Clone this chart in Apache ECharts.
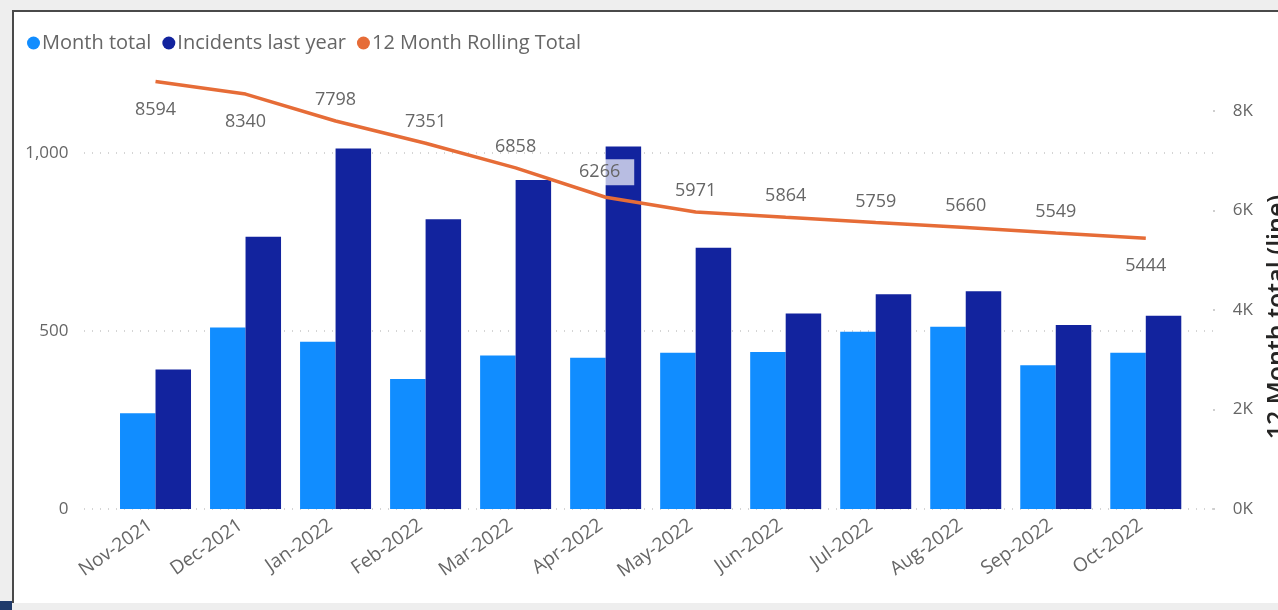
<!DOCTYPE html>
<html>
<head>
<meta charset="utf-8">
<script src="https://cdn.jsdelivr.net/npm/echarts@6/dist/echarts.min.js"></script>
<style>
  html, body { margin: 0; padding: 0; width: 1278px; height: 610px; overflow: hidden; background: #eeeeee; }
  #frame { position: absolute; left: 12px; top: 10px; width: 1266px; height: 593px; background: #ffffff;
           border-left: 2px solid #4a4a4a; border-top: 2px solid #4a4a4a; box-sizing: border-box; }
  #navy { position: absolute; left: 0; top: 601px; width: 12px; height: 9px; background: #1f3a6b; }
  #chart { position: absolute; left: 0; top: 0; width: 1278px; height: 610px; }
</style>
</head>
<body>
<div id="frame"></div>
<div id="navy"></div>
<div id="chart"></div>
<script>
const categories = ['Nov-2021','Dec-2021','Jan-2022','Feb-2022','Mar-2022','Apr-2022','May-2022','Jun-2022','Jul-2022','Aug-2022','Sep-2022','Oct-2022'];
const monthTotal = [269, 510, 470, 365, 431, 425, 439, 441, 498, 512, 404, 439];
const incidentsLastYear = [392, 765, 1013, 814, 924, 1018, 734, 549, 603, 612, 517, 543];
const rollingTotal = [8594, 8340, 7798, 7351, 6858, 6266, 5971, 5864, 5759, 5660, 5549, 5444];
const labelBelow = ['Nov-2021', 'Dec-2021', 'Oct-2022'];
const highlighted = 'Apr-2022';

const FONT = '"Segoe UI", "Open Sans", "Noto Sans", sans-serif';
const chart = echarts.init(document.getElementById('chart'), null, { renderer: 'canvas' });

const LEFT_MAX = 1118;
const lineData = rollingTotal.map((v, i) => {
  const below = labelBelow.includes(categories[i]);
  const item = { value: v, label: { show: true, position: below ? 'bottom' : 'top', distance: below ? 19 : 12 } };
  if (categories[i] === highlighted) {
    item.label.backgroundColor = 'rgba(255,255,255,0.7)';
    item.label.padding = [4, 14, 4, 2];
  }
  return item;
});

chart.setOption({
  animation: false,
  textStyle: { fontFamily: FONT },
  legend: {
    left: 27, top: 33, padding: 0,
    itemWidth: 13, itemHeight: 13, itemGap: 11,
    icon: 'circle',
    textStyle: { fontSize: 20, color: '#666666', fontFamily: FONT, padding: [0, 0, 0, -3] },
    data: ['Month total', 'Incidents last year', '12 Month Rolling Total']
  },
  grid: [
    { left: 110.5, right: 87.2, top: 111, bottom: 101, containLabel: false, outerBoundsMode: 'none' },
    { left: 84, right: 65, top: 111, bottom: 101, containLabel: false, outerBoundsMode: 'none' }
  ],
  xAxis: [
    {
      type: 'category', gridIndex: 0, data: categories,
      axisLine: { show: false }, axisTick: { show: false },
      axisLabel: { rotate: 35, color: '#666666', fontSize: 19, margin: 11, fontFamily: FONT, interval: 0,
        padding: [0, 6, 0, 0] }
    },
    { type: 'value', gridIndex: 1, show: false, min: 0, max: 1 }
  ],
  yAxis: [
    {
      type: 'value', gridIndex: 0, min: 0, max: LEFT_MAX, interval: 500,
      axisLabel: { show: true, margin: 42, color: '#666666', fontSize: 17, fontFamily: FONT, showMaxLabel: false,
        formatter: v => v.toLocaleString('en-US') },
      splitLine: { show: false }, axisLine: { show: false }, axisTick: { show: false }
    },
    {
      type: 'value', gridIndex: 0, min: 0, max: 8000, interval: 2000, position: 'right',
      axisLabel: { show: true, margin: 42, color: '#666666', fontSize: 17, fontFamily: FONT,
        formatter: v => (v / 1000) + 'K' },
      splitLine: { show: false }, axisLine: { show: false }, axisTick: { show: false }
    },
    {
      type: 'value', gridIndex: 1, min: 0, max: LEFT_MAX, interval: 500,
      axisLabel: { show: false }, axisLine: { show: false }, axisTick: { show: false },
      splitLine: { show: true, showMaxLine: false, lineStyle: { color: '#c8c8c8', type: [1, 7], width: 1.5 } }
    },
    {
      type: 'value', gridIndex: 1, min: 0, max: 8000, interval: 2000, position: 'right',
      axisLabel: { show: false }, axisLine: { show: false },
      axisTick: { show: true, length: 2, lineStyle: { color: '#cfcfcf', width: 2 } },
      splitLine: { show: false },
      name: '12 Month total (line)', nameLocation: 'middle', nameRotate: 90, nameGap: 52,
      nameTextStyle: { fontSize: 25, fontWeight: 600, color: '#252423', fontFamily: FONT, padding: [0, 14, 0, 0] }
    }
  ],
  series: [
    {
      name: 'Month total', type: 'bar', xAxisIndex: 0, yAxisIndex: 0, data: monthTotal,
      barWidth: 35.5, barGap: '0%', itemStyle: { color: '#118DFF' }
    },
    {
      name: 'Incidents last year', type: 'bar', xAxisIndex: 0, yAxisIndex: 0, data: incidentsLastYear,
      barWidth: 35.5, barGap: '0%', itemStyle: { color: '#12239E' }
    },
    {
      name: '12 Month Rolling Total', type: 'line', xAxisIndex: 0, yAxisIndex: 1, data: lineData,
      symbol: 'circle', symbolSize: 0.1, showSymbol: true, z: 5, clip: false,
      lineStyle: { color: '#E66C37', width: 3.5 }, itemStyle: { color: '#E66C37' },
      label: { show: true, color: '#666666', fontSize: 18, fontFamily: FONT },
      labelLayout: { hideOverlap: false }
    }
  ]
});
</script>
</body>
</html>
